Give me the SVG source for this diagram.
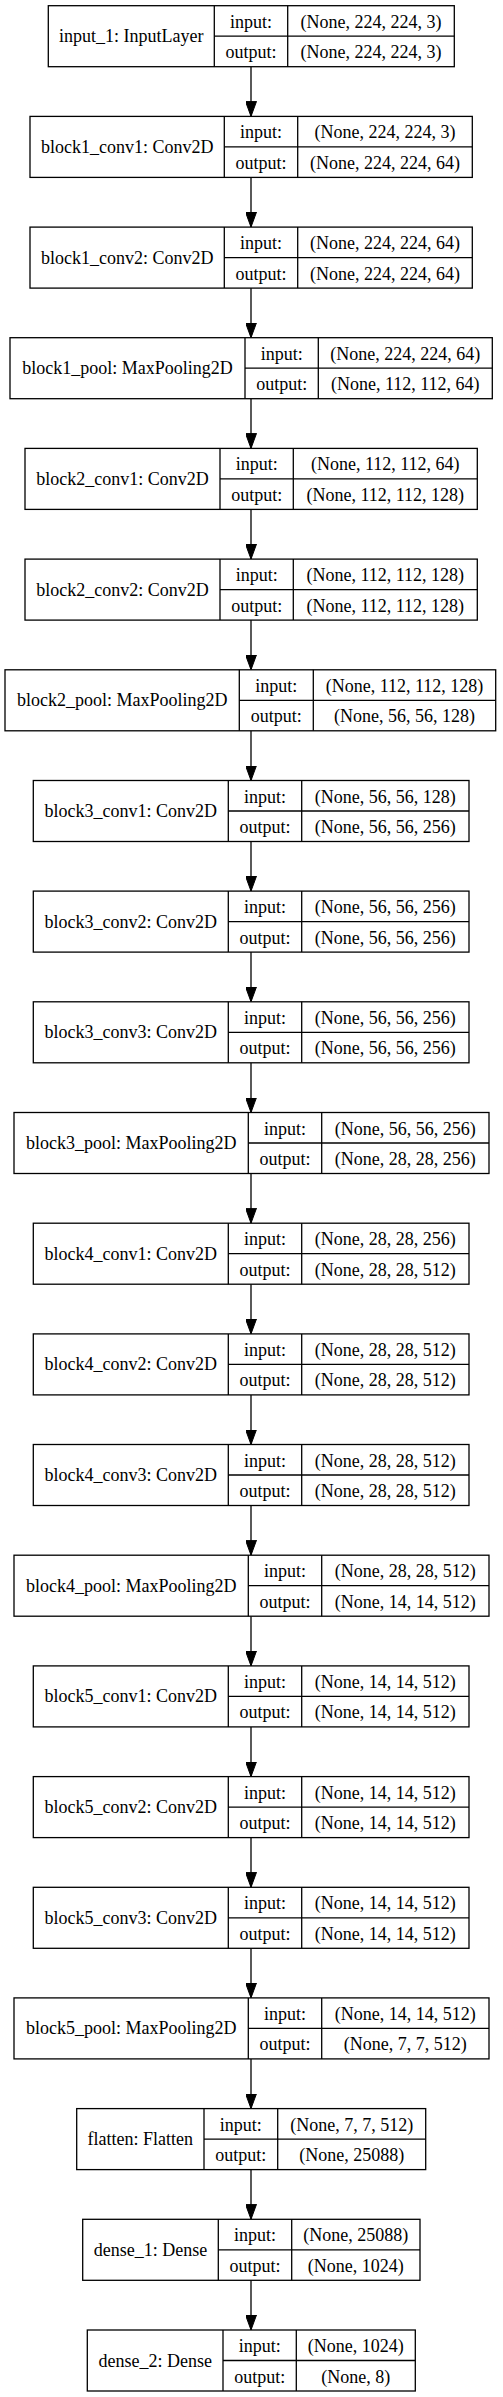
<svg xmlns="http://www.w3.org/2000/svg" width="503" height="2397" viewBox="0 0 503 2397">
<style>
.b{fill:#fff;stroke:#000;stroke-width:1.3}
.l{stroke:#000;stroke-width:1.3}
text{font-family:"Liberation Serif","Times New Roman",serif;font-size:18px;fill:#000;text-anchor:middle}
.e{stroke:#000;stroke-width:1.3;fill:none}
</style>
<defs>
<marker id="ah" markerUnits="userSpaceOnUse" markerWidth="15" markerHeight="11" refX="15" refY="5.5" orient="auto">
<path d="M0,0 L15,5.5 L0,11 Z" fill="#000" stroke="#000" stroke-width="1"/>
</marker>
</defs>
<rect width="503" height="2397" fill="#fff"/>
<g id="connectors">
<line class="e" marker-end="url(#ah)" x1="251" y1="66.7" x2="251" y2="116.4"/>
<line class="e" marker-end="url(#ah)" x1="251" y1="177.4" x2="251" y2="227.1"/>
<line class="e" marker-end="url(#ah)" x1="251" y1="288.1" x2="251" y2="337.7"/>
<line class="e" marker-end="url(#ah)" x1="251" y1="398.7" x2="251" y2="448.4"/>
<line class="e" marker-end="url(#ah)" x1="251" y1="509.4" x2="251" y2="559.1"/>
<line class="e" marker-end="url(#ah)" x1="251" y1="620.1" x2="251" y2="669.8"/>
<line class="e" marker-end="url(#ah)" x1="251" y1="730.8" x2="251" y2="780.5"/>
<line class="e" marker-end="url(#ah)" x1="251" y1="841.5" x2="251" y2="891.1"/>
<line class="e" marker-end="url(#ah)" x1="251" y1="952.1" x2="251" y2="1001.8"/>
<line class="e" marker-end="url(#ah)" x1="251" y1="1062.8" x2="251" y2="1112.5"/>
<line class="e" marker-end="url(#ah)" x1="251" y1="1173.5" x2="251" y2="1223.2"/>
<line class="e" marker-end="url(#ah)" x1="251" y1="1284.2" x2="251" y2="1333.9"/>
<line class="e" marker-end="url(#ah)" x1="251" y1="1394.9" x2="251" y2="1444.5"/>
<line class="e" marker-end="url(#ah)" x1="251" y1="1505.5" x2="251" y2="1555.2"/>
<line class="e" marker-end="url(#ah)" x1="251" y1="1616.2" x2="251" y2="1665.9"/>
<line class="e" marker-end="url(#ah)" x1="251" y1="1726.9" x2="251" y2="1776.6"/>
<line class="e" marker-end="url(#ah)" x1="251" y1="1837.6" x2="251" y2="1887.3"/>
<line class="e" marker-end="url(#ah)" x1="251" y1="1948.3" x2="251" y2="1997.9"/>
<line class="e" marker-end="url(#ah)" x1="251" y1="2058.9" x2="251" y2="2108.6"/>
<line class="e" marker-end="url(#ah)" x1="251" y1="2169.6" x2="251" y2="2219.3"/>
<line class="e" marker-end="url(#ah)" x1="251" y1="2280.3" x2="251" y2="2330"/>
</g>

<g id="input_1" transform="translate(0,5.7)">
<rect class="b" x="48.3" y="0" width="406" height="61"/>
<line class="l" x1="214.3" y1="0" x2="214.3" y2="61"/><line class="l" x1="287.7" y1="0" x2="287.7" y2="61"/><line class="l" x1="214.3" y1="30.5" x2="454.3" y2="30.5"/>
<text x="131.3" y="36.5">input_1: InputLayer</text>
<text x="251" y="22">input:</text><text x="251" y="52.5">output:</text>
<text x="371" y="22">(None, 224, 224, 3)</text><text x="371" y="52.5">(None, 224, 224, 3)</text>
</g>

<g id="block1_conv1" transform="translate(0,116.4)">
<rect class="b" x="30" y="0" width="442.3" height="61"/>
<line class="l" x1="224.3" y1="0" x2="224.3" y2="61"/><line class="l" x1="297.7" y1="0" x2="297.7" y2="61"/><line class="l" x1="224.3" y1="30.5" x2="472.3" y2="30.5"/>
<text x="127.2" y="36.5">block1_conv1: Conv2D</text>
<text x="261" y="22">input:</text><text x="261" y="52.5">output:</text>
<text x="385" y="22">(None, 224, 224, 3)</text><text x="385" y="52.5">(None, 224, 224, 64)</text>
</g>

<g id="block1_conv2" transform="translate(0,227.1)">
<rect class="b" x="30" y="0" width="442.3" height="61"/>
<line class="l" x1="224.3" y1="0" x2="224.3" y2="61"/><line class="l" x1="297.7" y1="0" x2="297.7" y2="61"/><line class="l" x1="224.3" y1="30.5" x2="472.3" y2="30.5"/>
<text x="127.2" y="36.5">block1_conv2: Conv2D</text>
<text x="261" y="22">input:</text><text x="261" y="52.5">output:</text>
<text x="385" y="22">(None, 224, 224, 64)</text><text x="385" y="52.5">(None, 224, 224, 64)</text>
</g>

<g id="block1_pool" transform="translate(0,337.7)">
<rect class="b" x="10" y="0" width="482.3" height="61"/>
<line class="l" x1="245" y1="0" x2="245" y2="61"/><line class="l" x1="318.3" y1="0" x2="318.3" y2="61"/><line class="l" x1="245" y1="30.5" x2="492.3" y2="30.5"/>
<text x="127.5" y="36.5">block1_pool: MaxPooling2D</text>
<text x="281.7" y="22">input:</text><text x="281.7" y="52.5">output:</text>
<text x="405.3" y="22">(None, 224, 224, 64)</text><text x="405.3" y="52.5">(None, 112, 112, 64)</text>
</g>

<g id="block2_conv1" transform="translate(0,448.4)">
<rect class="b" x="25" y="0" width="452.3" height="61"/>
<line class="l" x1="220" y1="0" x2="220" y2="61"/><line class="l" x1="293.3" y1="0" x2="293.3" y2="61"/><line class="l" x1="220" y1="30.5" x2="477.3" y2="30.5"/>
<text x="122.5" y="36.5">block2_conv1: Conv2D</text>
<text x="256.7" y="22">input:</text><text x="256.7" y="52.5">output:</text>
<text x="385.3" y="22">(None, 112, 112, 64)</text><text x="385.3" y="52.5">(None, 112, 112, 128)</text>
</g>

<g id="block2_conv2" transform="translate(0,559.1)">
<rect class="b" x="25" y="0" width="452.3" height="61"/>
<line class="l" x1="220" y1="0" x2="220" y2="61"/><line class="l" x1="293.3" y1="0" x2="293.3" y2="61"/><line class="l" x1="220" y1="30.5" x2="477.3" y2="30.5"/>
<text x="122.5" y="36.5">block2_conv2: Conv2D</text>
<text x="256.7" y="22">input:</text><text x="256.7" y="52.5">output:</text>
<text x="385.3" y="22">(None, 112, 112, 128)</text><text x="385.3" y="52.5">(None, 112, 112, 128)</text>
</g>

<g id="block2_pool" transform="translate(0,669.8)">
<rect class="b" x="5" y="0" width="490.7" height="61"/>
<line class="l" x1="239.3" y1="0" x2="239.3" y2="61"/><line class="l" x1="313.3" y1="0" x2="313.3" y2="61"/><line class="l" x1="239.3" y1="30.5" x2="495.7" y2="30.5"/>
<text x="122.2" y="36.5">block2_pool: MaxPooling2D</text>
<text x="276.3" y="22">input:</text><text x="276.3" y="52.5">output:</text>
<text x="404.5" y="22">(None, 112, 112, 128)</text><text x="404.5" y="52.5">(None, 56, 56, 128)</text>
</g>

<g id="block3_conv1" transform="translate(0,780.5)">
<rect class="b" x="33.3" y="0" width="435.7" height="61"/>
<line class="l" x1="228.3" y1="0" x2="228.3" y2="61"/><line class="l" x1="301.7" y1="0" x2="301.7" y2="61"/><line class="l" x1="228.3" y1="30.5" x2="469" y2="30.5"/>
<text x="130.8" y="36.5">block3_conv1: Conv2D</text>
<text x="265" y="22">input:</text><text x="265" y="52.5">output:</text>
<text x="385.3" y="22">(None, 56, 56, 128)</text><text x="385.3" y="52.5">(None, 56, 56, 256)</text>
</g>

<g id="block3_conv2" transform="translate(0,891.1)">
<rect class="b" x="33.3" y="0" width="435.7" height="61"/>
<line class="l" x1="228.3" y1="0" x2="228.3" y2="61"/><line class="l" x1="301.7" y1="0" x2="301.7" y2="61"/><line class="l" x1="228.3" y1="30.5" x2="469" y2="30.5"/>
<text x="130.8" y="36.5">block3_conv2: Conv2D</text>
<text x="265" y="22">input:</text><text x="265" y="52.5">output:</text>
<text x="385.3" y="22">(None, 56, 56, 256)</text><text x="385.3" y="52.5">(None, 56, 56, 256)</text>
</g>

<g id="block3_conv3" transform="translate(0,1001.8)">
<rect class="b" x="33.3" y="0" width="435.7" height="61"/>
<line class="l" x1="228.3" y1="0" x2="228.3" y2="61"/><line class="l" x1="301.7" y1="0" x2="301.7" y2="61"/><line class="l" x1="228.3" y1="30.5" x2="469" y2="30.5"/>
<text x="130.8" y="36.5">block3_conv3: Conv2D</text>
<text x="265" y="22">input:</text><text x="265" y="52.5">output:</text>
<text x="385.3" y="22">(None, 56, 56, 256)</text><text x="385.3" y="52.5">(None, 56, 56, 256)</text>
</g>

<g id="block3_pool" transform="translate(0,1112.5)">
<rect class="b" x="14" y="0" width="475" height="61"/>
<line class="l" x1="248.3" y1="0" x2="248.3" y2="61"/><line class="l" x1="321.7" y1="0" x2="321.7" y2="61"/><line class="l" x1="248.3" y1="30.5" x2="489" y2="30.5"/>
<text x="131.2" y="36.5">block3_pool: MaxPooling2D</text>
<text x="285" y="22">input:</text><text x="285" y="52.5">output:</text>
<text x="405.3" y="22">(None, 56, 56, 256)</text><text x="405.3" y="52.5">(None, 28, 28, 256)</text>
</g>

<g id="block4_conv1" transform="translate(0,1223.2)">
<rect class="b" x="33.3" y="0" width="435.7" height="61"/>
<line class="l" x1="228.3" y1="0" x2="228.3" y2="61"/><line class="l" x1="301.7" y1="0" x2="301.7" y2="61"/><line class="l" x1="228.3" y1="30.5" x2="469" y2="30.5"/>
<text x="130.8" y="36.5">block4_conv1: Conv2D</text>
<text x="265" y="22">input:</text><text x="265" y="52.5">output:</text>
<text x="385.3" y="22">(None, 28, 28, 256)</text><text x="385.3" y="52.5">(None, 28, 28, 512)</text>
</g>

<g id="block4_conv2" transform="translate(0,1333.9)">
<rect class="b" x="33.3" y="0" width="435.7" height="61"/>
<line class="l" x1="228.3" y1="0" x2="228.3" y2="61"/><line class="l" x1="301.7" y1="0" x2="301.7" y2="61"/><line class="l" x1="228.3" y1="30.5" x2="469" y2="30.5"/>
<text x="130.8" y="36.5">block4_conv2: Conv2D</text>
<text x="265" y="22">input:</text><text x="265" y="52.5">output:</text>
<text x="385.3" y="22">(None, 28, 28, 512)</text><text x="385.3" y="52.5">(None, 28, 28, 512)</text>
</g>

<g id="block4_conv3" transform="translate(0,1444.5)">
<rect class="b" x="33.3" y="0" width="435.7" height="61"/>
<line class="l" x1="228.3" y1="0" x2="228.3" y2="61"/><line class="l" x1="301.7" y1="0" x2="301.7" y2="61"/><line class="l" x1="228.3" y1="30.5" x2="469" y2="30.5"/>
<text x="130.8" y="36.5">block4_conv3: Conv2D</text>
<text x="265" y="22">input:</text><text x="265" y="52.5">output:</text>
<text x="385.3" y="22">(None, 28, 28, 512)</text><text x="385.3" y="52.5">(None, 28, 28, 512)</text>
</g>

<g id="block4_pool" transform="translate(0,1555.2)">
<rect class="b" x="14" y="0" width="475" height="61"/>
<line class="l" x1="248.3" y1="0" x2="248.3" y2="61"/><line class="l" x1="321.7" y1="0" x2="321.7" y2="61"/><line class="l" x1="248.3" y1="30.5" x2="489" y2="30.5"/>
<text x="131.2" y="36.5">block4_pool: MaxPooling2D</text>
<text x="285" y="22">input:</text><text x="285" y="52.5">output:</text>
<text x="405.3" y="22">(None, 28, 28, 512)</text><text x="405.3" y="52.5">(None, 14, 14, 512)</text>
</g>

<g id="block5_conv1" transform="translate(0,1665.9)">
<rect class="b" x="33.3" y="0" width="435.7" height="61"/>
<line class="l" x1="228.3" y1="0" x2="228.3" y2="61"/><line class="l" x1="301.7" y1="0" x2="301.7" y2="61"/><line class="l" x1="228.3" y1="30.5" x2="469" y2="30.5"/>
<text x="130.8" y="36.5">block5_conv1: Conv2D</text>
<text x="265" y="22">input:</text><text x="265" y="52.5">output:</text>
<text x="385.3" y="22">(None, 14, 14, 512)</text><text x="385.3" y="52.5">(None, 14, 14, 512)</text>
</g>

<g id="block5_conv2" transform="translate(0,1776.6)">
<rect class="b" x="33.3" y="0" width="435.7" height="61"/>
<line class="l" x1="228.3" y1="0" x2="228.3" y2="61"/><line class="l" x1="301.7" y1="0" x2="301.7" y2="61"/><line class="l" x1="228.3" y1="30.5" x2="469" y2="30.5"/>
<text x="130.8" y="36.5">block5_conv2: Conv2D</text>
<text x="265" y="22">input:</text><text x="265" y="52.5">output:</text>
<text x="385.3" y="22">(None, 14, 14, 512)</text><text x="385.3" y="52.5">(None, 14, 14, 512)</text>
</g>

<g id="block5_conv3" transform="translate(0,1887.3)">
<rect class="b" x="33.3" y="0" width="435.7" height="61"/>
<line class="l" x1="228.3" y1="0" x2="228.3" y2="61"/><line class="l" x1="301.7" y1="0" x2="301.7" y2="61"/><line class="l" x1="228.3" y1="30.5" x2="469" y2="30.5"/>
<text x="130.8" y="36.5">block5_conv3: Conv2D</text>
<text x="265" y="22">input:</text><text x="265" y="52.5">output:</text>
<text x="385.3" y="22">(None, 14, 14, 512)</text><text x="385.3" y="52.5">(None, 14, 14, 512)</text>
</g>

<g id="block5_pool" transform="translate(0,1997.9)">
<rect class="b" x="14" y="0" width="475" height="61"/>
<line class="l" x1="248.3" y1="0" x2="248.3" y2="61"/><line class="l" x1="321.7" y1="0" x2="321.7" y2="61"/><line class="l" x1="248.3" y1="30.5" x2="489" y2="30.5"/>
<text x="131.2" y="36.5">block5_pool: MaxPooling2D</text>
<text x="285" y="22">input:</text><text x="285" y="52.5">output:</text>
<text x="405.3" y="22">(None, 14, 14, 512)</text><text x="405.3" y="52.5">(None, 7, 7, 512)</text>
</g>

<g id="flatten" transform="translate(0,2108.6)">
<rect class="b" x="76.7" y="0" width="349" height="61"/>
<line class="l" x1="204" y1="0" x2="204" y2="61"/><line class="l" x1="277.7" y1="0" x2="277.7" y2="61"/><line class="l" x1="204" y1="30.5" x2="425.7" y2="30.5"/>
<text x="140.3" y="36.5">flatten: Flatten</text>
<text x="240.8" y="22">input:</text><text x="240.8" y="52.5">output:</text>
<text x="351.7" y="22">(None, 7, 7, 512)</text><text x="351.7" y="52.5">(None, 25088)</text>
</g>

<g id="dense_1" transform="translate(0,2219.3)">
<rect class="b" x="82.7" y="0" width="337.3" height="61"/>
<line class="l" x1="218.3" y1="0" x2="218.3" y2="61"/><line class="l" x1="291.7" y1="0" x2="291.7" y2="61"/><line class="l" x1="218.3" y1="30.5" x2="420" y2="30.5"/>
<text x="150.5" y="36.5">dense_1: Dense</text>
<text x="255" y="22">input:</text><text x="255" y="52.5">output:</text>
<text x="355.8" y="22">(None, 25088)</text><text x="355.8" y="52.5">(None, 1024)</text>
</g>

<g id="dense_2" transform="translate(0,2330)">
<rect class="b" x="87.3" y="0" width="328" height="61"/>
<line class="l" x1="223" y1="0" x2="223" y2="61"/><line class="l" x1="296.3" y1="0" x2="296.3" y2="61"/><line class="l" x1="223" y1="30.5" x2="415.3" y2="30.5"/>
<text x="155.2" y="36.5">dense_2: Dense</text>
<text x="259.7" y="22">input:</text><text x="259.7" y="52.5">output:</text>
<text x="355.8" y="22">(None, 1024)</text><text x="355.8" y="52.5">(None, 8)</text>
</g>
</svg>
